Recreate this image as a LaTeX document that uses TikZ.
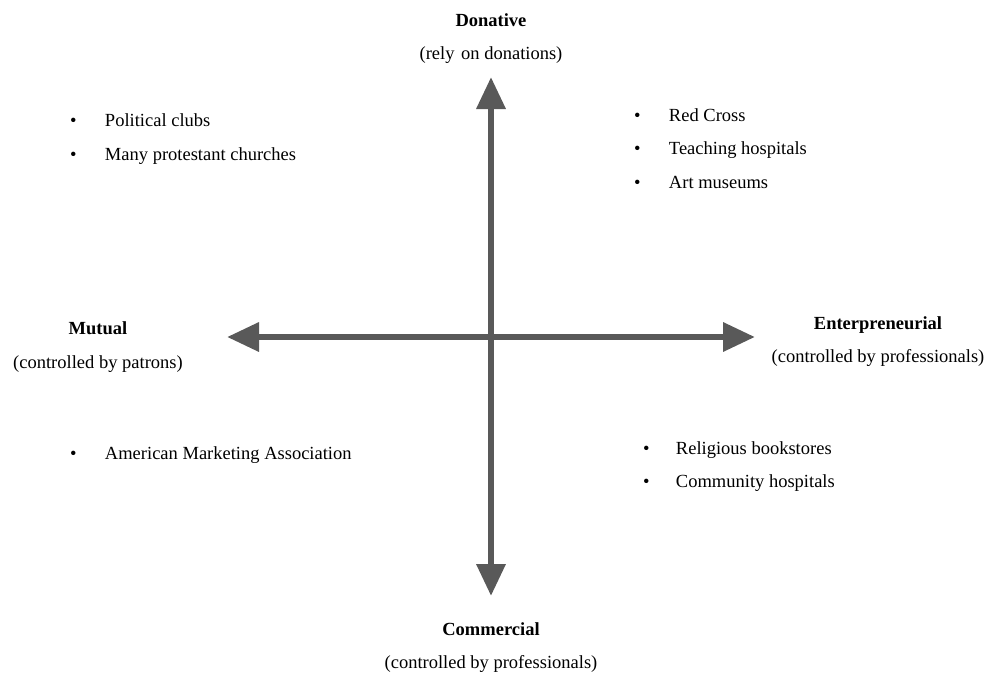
\documentclass[tikz,border=0pt]{standalone}
\usepackage{fontspec}
\setmainfont{Liberation Serif}
\usetikzlibrary{arrows.meta}
\definecolor{axisgray}{HTML}{595959}
\newcommand\listentry[2][35pt]{\makebox[#1][l]{•}#2}
\begin{document}
\begin{tikzpicture}[x=1pt,y=-1pt,
  every node/.style={inner sep=0pt, outer sep=0pt, font=\fontsize{18.5}{22}\selectfont},
  head/.style={font=\fontsize{18.5}{22}\selectfont\bfseries, anchor=base},
  sub/.style={anchor=base},
  entry/.style={anchor=base west},
  axis/.style={line width=6.5pt, draw=axisgray,
    {Triangle[length=32pt,width=28pt]}-{Triangle[length=32pt,width=28pt]}}
]
\useasboundingbox (0,0) rectangle (988,675);

% axis end points
\coordinate (top) at (491,77);
\coordinate (bottom) at (491,596);
\coordinate (left) at (227,337);
\coordinate (right) at (755,337);

\draw[axis] (top) -- (bottom);
\draw[axis] (left) -- (right);

% axis labels
\node[head] (don) at (491,26) {Donative};
\node[sub] (donsub) at (491,59) {(rely\hspace{2pt} on donations)};
\node[head] (mut) at (98,334) {Mutual};
\node[sub] (mutsub) at (98,368) {(controlled by patrons)};
\node[head] (ent) at (878,329) {Enterpreneurial};
\node[sub] (entsub) at (878,362) {(controlled by professionals)};
\node[head] (com) at (491,635) {Commercial};
\node[sub] (comsub) at (491,668) {(controlled by professionals)};

% quadrant examples
\node[entry] (q1a) at (70,126) {\listentry{Political clubs}};
\node[entry] (q1b) at (70,160) {\listentry{Many protestant churches}};
\node[entry] (q2a) at (634,121) {\listentry{Red Cross}};
\node[entry] (q2b) at (634,154) {\listentry{Teaching hospitals}};
\node[entry] (q2c) at (634,188) {\listentry{Art museums}};
\node[entry] (q3a) at (70,459) {\listentry{American Marketing Association}};
\node[entry] (q4a) at (643,454) {\listentry[33pt]{Religious bookstores}};
\node[entry] (q4b) at (643,487) {\listentry[33pt]{Community hospitals}};
\end{tikzpicture}
\end{document}
